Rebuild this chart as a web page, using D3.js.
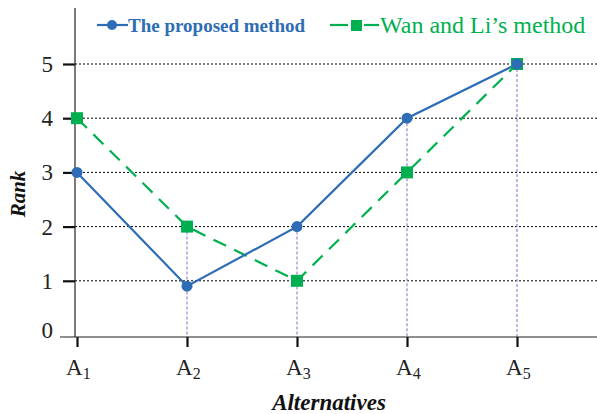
<html>
<head>
<meta charset="utf-8" />
<script src="https://cdn.jsdelivr.net/npm/d3@7"></script>
<style type="text/css">
	body{ margin:0; background:#fff; }
	svg text{ font-family:"Liberation Serif","Times New Roman",serif; }
</style>
</head>
<body>
<svg id="chart" width="597" height="414"></svg>
<script type="text/javascript">
	var alternatives = ["1","2","3","4","5"];
	var proposed = [3, 0.9, 2, 4, 5];
	var wanLi = [4, 2, 1, 3, 5];
	var rankTicks = [0, 1, 2, 3, 4, 5];

	var blue = "#2e6db5", green = "#00b050", purple = "#a98bd6";

	var svg = d3.select("#chart");

	var x = d3.scaleLinear().domain([0, 4]).range([77, 517]);
	var y = d3.scaleLinear().domain([0, 5]).range([335, 64]);

	// dotted grid
	svg.selectAll(".grid")
		.data(rankTicks.filter(function(d){ return d > 0; }))
		.enter().append("line")
		.attr("x1", 75).attr("x2", 597)
		.attr("y1", function(d){ return y(d); })
		.attr("y2", function(d){ return y(d); })
		.attr("stroke", "#000")
		.attr("stroke-width", 1)
		.attr("stroke-dasharray", "2,2");

	// purple drop lines
	svg.selectAll(".drop")
		.data(alternatives.slice(1))
		.enter().append("line")
		.attr("x1", function(d, i){ return x(i + 1); })
		.attr("x2", function(d, i){ return x(i + 1); })
		.attr("y1", function(d, i){ return y(Math.max(proposed[i + 1], wanLi[i + 1])); })
		.attr("y2", 337)
		.attr("stroke", purple)
		.attr("stroke-width", 1.3)
		.attr("stroke-dasharray", "3,2");

	// axes
	var yAxis = svg.append("g").attr("transform", "translate(75,0)")
		.call(d3.axisLeft(y).tickValues(rankTicks.slice(1)).tickSize(12).tickFormat(""));
	yAxis.select(".domain").remove();
	yAxis.selectAll("line").attr("stroke", "#111").attr("stroke-width", 2.2);

	svg.append("line").attr("x1", 75).attr("x2", 75).attr("y1", 8).attr("y2", 337)
		.attr("stroke", "#222").attr("stroke-width", 1.2);

	svg.selectAll(".ylab")
		.data(rankTicks)
		.enter().append("text")
		.attr("x", 53)
		.attr("y", function(d){ return d === 0 ? y(d) + 3 : y(d) + 8; })
		.attr("text-anchor", "end")
		.attr("font-size", 23)
		.attr("fill", "#222")
		.text(function(d){ return d; });

	var xAxis = svg.append("g").attr("transform", "translate(0,337)")
		.call(d3.axisBottom(x).tickValues([0,1,2,3,4]).tickSize(10).tickFormat(""));
	xAxis.select(".domain").remove();
	xAxis.selectAll("line").attr("stroke", "#111").attr("stroke-width", 2.2);

	svg.append("line").attr("x1", 60).attr("x2", 597).attr("y1", 337).attr("y2", 337)
		.attr("stroke", "#222").attr("stroke-width", 1.2);

	var xl = svg.selectAll(".xlab")
		.data(alternatives)
		.enter().append("text")
		.attr("x", function(d, i){ return x(i) - 11; })
		.attr("y", 375)
		.attr("font-size", 23)
		.attr("fill", "#222");
	xl.append("tspan").text("A");
	xl.append("tspan").attr("font-size", 16).attr("dy", 4).text(function(d){ return d; });

	svg.append("text")
		.attr("x", 329).attr("y", 410)
		.attr("text-anchor", "middle")
		.attr("font-size", 23).attr("font-weight", "bold").attr("font-style", "italic")
		.attr("fill", "#111")
		.text("Alternatives");

	svg.append("text")
		.attr("transform", "translate(25,194) rotate(-90)")
		.attr("text-anchor", "middle")
		.attr("font-size", 21).attr("font-weight", "bold").attr("font-style", "italic")
		.attr("fill", "#111")
		.text("Rank");

	// series
	var line = d3.line()
		.x(function(d, i){ return x(i); })
		.y(function(d){ return y(d); });

	svg.append("path").datum(wanLi)
		.attr("d", line)
		.attr("fill", "none")
		.attr("stroke", green)
		.attr("stroke-width", 2.2)
		.attr("stroke-dasharray", "14,9");

	svg.append("path").datum(proposed)
		.attr("d", line)
		.attr("fill", "none")
		.attr("stroke", blue)
		.attr("stroke-width", 2.2);

	svg.selectAll(".sq")
		.data(wanLi)
		.enter().append("rect")
		.attr("x", function(d, i){ return x(i) - 6; })
		.attr("y", function(d){ return y(d) - 6; })
		.attr("width", 12).attr("height", 12)
		.attr("fill", green);

	svg.selectAll(".dot")
		.data(proposed)
		.enter().append("circle")
		.attr("cx", function(d, i){ return x(i); })
		.attr("cy", function(d){ return y(d); })
		.attr("r", 5.5)
		.attr("fill", blue);

	// legend
	svg.append("line").attr("x1", 97).attr("x2", 128).attr("y1", 25).attr("y2", 25)
		.attr("stroke", blue).attr("stroke-width", 2.2);
	svg.append("circle").attr("cx", 112).attr("cy", 25).attr("r", 5).attr("fill", blue);
	svg.append("text")
		.attr("x", 128).attr("y", 32)
		.attr("font-size", 19).attr("font-weight", "bold")
		.attr("fill", blue)
		.text("The proposed method");

	svg.append("line").attr("x1", 330).attr("x2", 348).attr("y1", 25).attr("y2", 25)
		.attr("stroke", green).attr("stroke-width", 2.2);
	svg.append("line").attr("x1", 364).attr("x2", 379).attr("y1", 25).attr("y2", 25)
		.attr("stroke", green).attr("stroke-width", 2.2);
	svg.append("rect").attr("x", 351).attr("y", 20).attr("width", 11).attr("height", 11)
		.attr("fill", green);
	svg.append("text")
		.attr("x", 380).attr("y", 33)
		.attr("font-size", 24)
		.attr("fill", green)
		.text("Wan and Li\u2019s method");
</script>
</body>
</html>
